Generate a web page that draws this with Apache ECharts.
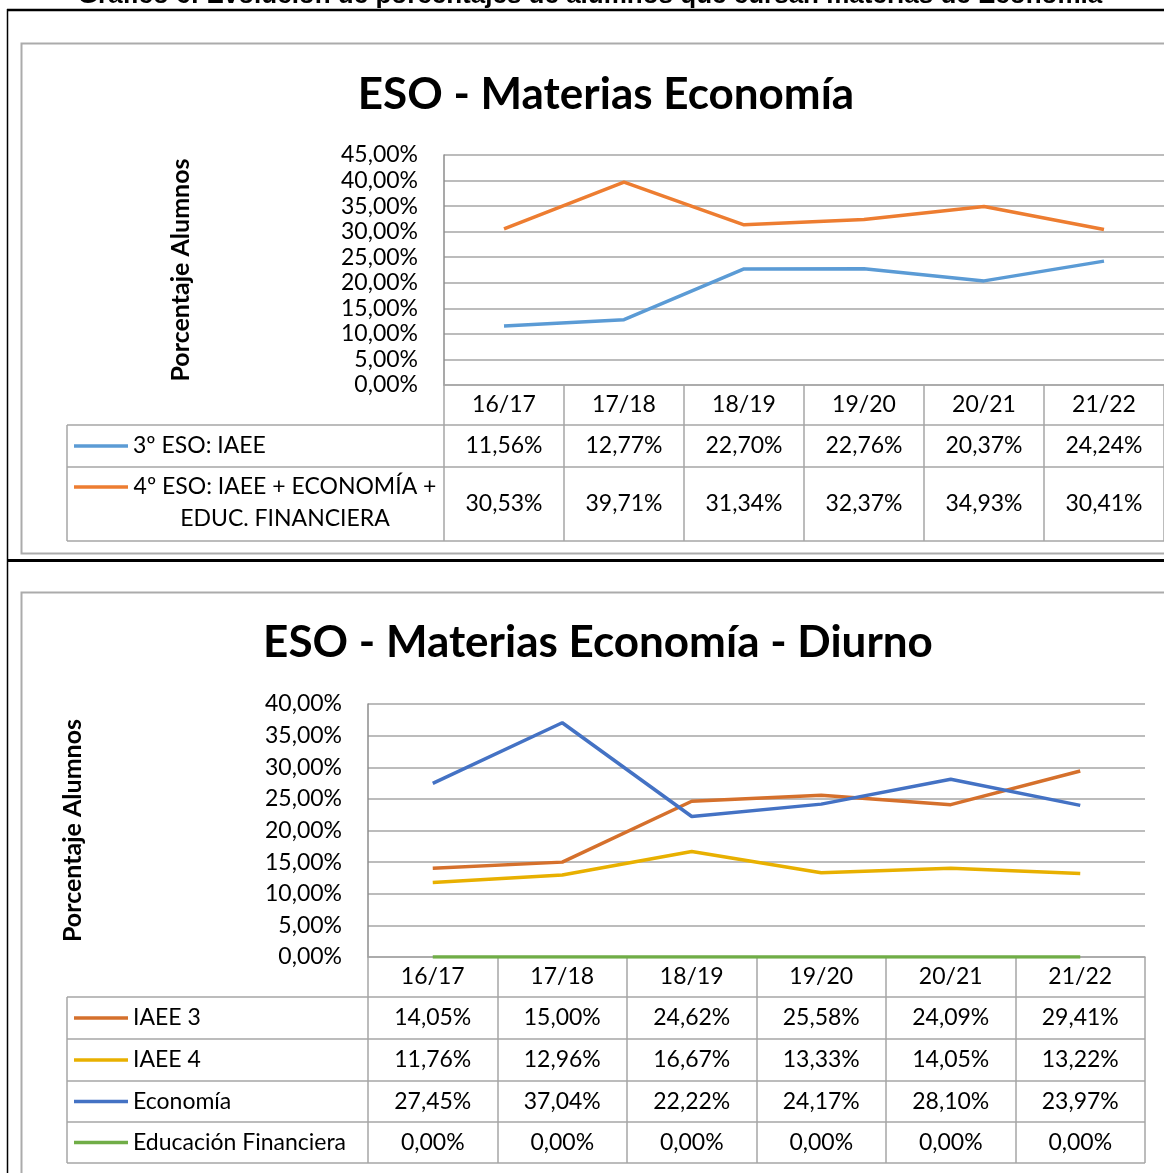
<!DOCTYPE html>
<html><head><meta charset="utf-8">
<script src="https://cdn.jsdelivr.net/npm/echarts@6/dist/echarts.min.js"></script>
<style>html,body{margin:0;padding:0;background:#fff;overflow:hidden}#c{width:1164px;height:1173px}</style>
</head><body><div id="c"></div><script>
// ---- data ----
const categories = ['16/17', '17/18', '18/19', '19/20', '20/21', '21/22'];
const pageTitle = 'Gráfico 6: Evolución de porcentajes de alumnos que cursan materias de Economía';
const title1 = 'ESO - Materias Economía';
const title2 = 'ESO - Materias Economía - Diurno';
const axisTitle = 'Porcentaje Alumnos';
const yMax1 = 45, yMax2 = 40, yStep = 5;
const names1 = ['3º ESO: IAEE', '4º ESO: IAEE + ECONOMÍA +\nEDUC. FINANCIERA'];
const eso3IAEE = [11.56, 12.77, 22.70, 22.76, 20.37, 24.24];
const eso4All = [30.53, 39.71, 31.34, 32.37, 34.93, 30.41];
const names2 = ['IAEE 3', 'IAEE 4', 'Economía', 'Educación Financiera'];
const iaee3 = [14.05, 15.00, 24.62, 25.58, 24.09, 29.41];
const iaee4 = [11.76, 12.96, 16.67, 13.33, 14.05, 13.22];
const economia = [27.45, 37.04, 22.22, 24.17, 28.10, 23.97];
const educFin = [0.00, 0.00, 0.00, 0.00, 0.00, 0.00];

// ---- style ----
const FONT = 'Lato';
const colors1 = ['#5B9BD5', '#ED7D31'];
const colors2 = ['#D5702C', '#E8B000', '#4472C4', '#70AD47'];
const GRID = '#A6A6A6';
const fmt = v => v.toFixed(2).replace('.', ',') + '%';

const chart = echarts.init(document.getElementById('c'), null, {renderer: 'canvas'});

function yAxisCfg(gi, max, gap) {
  return {
    type: 'value', gridIndex: gi, min: 0, max: max, interval: yStep,
    axisLine: {show: true, lineStyle: {color: '#8C8C8C', width: 1.5}},
    axisTick: {show: false},
    axisLabel: {formatter: fmt, color: '#000', fontFamily: FONT, fontSize: 23, margin: 26},
    splitLine: {show: true, lineStyle: {color: GRID, width: 1.5}},
    name: axisTitle, nameLocation: 'middle', nameRotate: 90, nameGap: gap, nameMoveOverlap: false,
    nameTextStyle: {color: '#000', fontFamily: FONT, fontSize: 25, fontWeight: 'bold'}
  };
}
function xAxisCfg(gi, tickLen) {
  return {
    type: 'category', gridIndex: gi, data: categories, boundaryGap: true,
    axisLine: {show: true, lineStyle: {color: GRID, width: 1.5}},
    axisTick: {show: true, interval: 0, length: tickLen, inside: false, lineStyle: {color: GRID, width: 1.5}},
    axisLabel: {color: '#000', fontFamily: FONT, fontSize: 23, margin: 20, verticalAlign: 'middle', interval: 0},
    splitLine: {show: false}
  };
}
function lineSeries(name, data, color, xi) {
  return {type: 'line', name, data, xAxisIndex: xi, yAxisIndex: xi, symbol: 'none',
    lineStyle: {color, width: 3.5}, itemStyle: {color}, animation: false};
}

chart.setOption({
  animation: false,
  grid: [
    {left: 444, top: 155, width: 720, height: 230, containLabel: false, outerBoundsMode: 'none'},
    {left: 368, top: 704, width: 777, height: 253, containLabel: false, outerBoundsMode: 'none'}
  ],
  xAxis: [xAxisCfg(0, 156), xAxisCfg(1, 206)],
  yAxis: [yAxisCfg(0, yMax1, 251), yAxisCfg(1, yMax2, 283)],
  series: [
    lineSeries(names1[0], eso3IAEE, colors1[0], 0),
    lineSeries(names1[1], eso4All, colors1[1], 0),
    lineSeries(names2[0], iaee3, colors2[0], 1),
    lineSeries(names2[1], iaee4, colors2[1], 1),
    lineSeries(names2[2], economia, colors2[2], 1),
    lineSeries(names2[3], educFin, colors2[3], 1)
  ]
});

// ---- table + frame graphics ----
const g = [];
function hline(x1, x2, y, color, w, z) { g.push({type: 'line', z: z || 1, shape: {x1, y1: y, x2, y2: y}, style: {stroke: color, lineWidth: w}}); }
function vline(x, y1, y2, color, w, z) { g.push({type: 'line', z: z || 1, shape: {x1: x, y1, x2: x, y2}, style: {stroke: color, lineWidth: w}}); }
function txt(x, y, text, opts) {
  g.push({type: 'text', z: 5, x, y, style: Object.assign({text, fill: '#000', font: '23px ' + FONT, textAlign: 'center', textVerticalAlign: 'middle'}, opts || {})});
}

// page frame
hline(7, 1164, 10, '#000', 2.5);
vline(7.5, 9, 1173, '#000', 1.5);
hline(7, 1164, 560.5, '#000', 3);
txt(590, -4, pageTitle, {font: 'bold 26px "Liberation Sans"'});
// chart area boxes
g.push({type: 'rect', z: 0, shape: {x: 21.5, y: 43.5, width: 1160, height: 510}, style: {fill: 'none', stroke: '#ABABAB', lineWidth: 2}});
g.push({type: 'rect', z: 0, shape: {x: 21.5, y: 592.5, width: 1160, height: 600}, style: {fill: 'none', stroke: '#ABABAB', lineWidth: 2}});
// titles
txt(606, 95, title1, {font: 'bold 44px ' + FONT});
txt(598, 643, title2, {font: 'bold 44px ' + FONT});

// top table
const rows1 = [[425, 467], [467, 541]];
[425, 467, 541].forEach(y => hline(67, 1164, y, GRID, 1.5));
vline(67, 425, 541, GRID, 1.5);
const data1 = [eso3IAEE, eso4All];
rows1.forEach((r, i) => {
  const cy = (r[0] + r[1]) / 2;
  const lines = names1[i].split('\n');
  const ly = lines.length > 1 ? r[0] + 20 : cy;
  hline(74, 128, ly, colors1[i], 3.5, 4);
  if (lines.length > 1) {
    txt(285, r[0] + 20, lines[0]);
    txt(285, r[0] + 52, lines[1]);
  } else {
    txt(133, cy, lines[0], {textAlign: 'left'});
  }
  data1[i].forEach((v, k) => {
    const x = chart.convertToPixel({xAxisIndex: 0}, categories[k]);
    txt(x, cy, fmt(v));
  });
});

// bottom table
const rows2 = [[997, 1039], [1039, 1081], [1081, 1122], [1122, 1163]];
[997, 1039, 1081, 1122, 1163].forEach(y => hline(67, 1145, y, GRID, 1.5));
vline(67, 997, 1163, GRID, 1.5);
const data2 = [iaee3, iaee4, economia, educFin];
rows2.forEach((r, i) => {
  const cy = (r[0] + r[1]) / 2;
  hline(74, 128, cy, colors2[i], 3.5, 4);
  txt(133, cy, names2[i], {textAlign: 'left'});
  data2[i].forEach((v, k) => {
    const x = chart.convertToPixel({xAxisIndex: 1}, categories[k]);
    txt(x, cy, fmt(v));
  });
});

chart.setOption({graphic: {elements: g}});
</script></body></html>
